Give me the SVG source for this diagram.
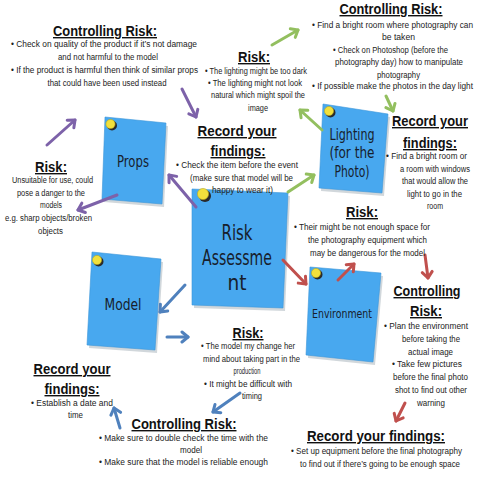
<svg xmlns="http://www.w3.org/2000/svg" width="480" height="480" viewBox="0 0 480 480">
<style>
.h{font-family:"Liberation Sans",Arial,sans-serif;font-weight:bold;font-size:14px;fill:#111;text-decoration:underline;text-anchor:middle;}
.b{font-family:"Liberation Sans",Arial,sans-serif;font-size:8.5px;fill:#222;}
.e{text-anchor:end;}
.m{text-anchor:middle;}
.n{font-family:"DejaVu Sans",sans-serif;fill:#17202c;text-anchor:middle;}
.note{fill:#48a8ef;stroke:#3a95d8;stroke-width:0.6;}
.sh{fill:#9aa6b0;opacity:0.45;}
.pin{fill:#f1e03c;stroke:#b8a820;stroke-width:0.6;}
.pinsh{fill:#2a2a2a;}
.a{fill:none;stroke-width:3;stroke-linecap:round;}
.p{stroke:#7d62a9;}.g{stroke:#93bf5f;}.r{stroke:#c0504d;}.bl{stroke:#4f81bd;}
</style>
<defs>
<marker id="mp" markerUnits="userSpaceOnUse" markerWidth="14" markerHeight="14" refX="8" refY="7" orient="auto"><path d="M2,2 L8,7 L2,12" fill="none" stroke="#7d62a9" stroke-width="3" stroke-linecap="round" stroke-linejoin="round"/></marker>
<marker id="mg" markerUnits="userSpaceOnUse" markerWidth="14" markerHeight="14" refX="8" refY="7" orient="auto"><path d="M2,2 L8,7 L2,12" fill="none" stroke="#93bf5f" stroke-width="3" stroke-linecap="round" stroke-linejoin="round"/></marker>
<marker id="mr" markerUnits="userSpaceOnUse" markerWidth="14" markerHeight="14" refX="8" refY="7" orient="auto"><path d="M2,2 L8,7 L2,12" fill="none" stroke="#c0504d" stroke-width="3" stroke-linecap="round" stroke-linejoin="round"/></marker>
<marker id="mb" markerUnits="userSpaceOnUse" markerWidth="14" markerHeight="14" refX="8" refY="7" orient="auto"><path d="M2,2 L8,7 L2,12" fill="none" stroke="#4f81bd" stroke-width="3" stroke-linecap="round" stroke-linejoin="round"/></marker>
</defs>
<rect width="480" height="480" fill="#ffffff"/>

<g id="props">
<polygon class="sh" points="107,120 168,126 164,207 104,202"/>
<polygon class="note" points="105,117 166,123 162,204 102,199"/>
<circle class="pinsh" cx="112" cy="125.5" r="5"/><circle class="pin" cx="110.5" cy="124" r="4.6"/>
<text class="n" x="133" y="167" font-size="15" textLength="32" lengthAdjust="spacingAndGlyphs">Props</text>
</g>

<g id="risk-assessment">
<polygon class="sh" points="194,192 290,196 285,311 194,308"/>
<polygon class="note" points="192,189 288,193 283,308 192,305"/>
<circle class="pinsh" cx="205" cy="196" r="6"/><circle class="pin" cx="203" cy="194" r="5.6"/>
<text class="n" x="237" y="240" font-size="21" textLength="31" lengthAdjust="spacingAndGlyphs">Risk</text>
<text class="n" x="237" y="265" font-size="21" textLength="70" lengthAdjust="spacingAndGlyphs">Assessme</text>
<text class="n" x="237" y="290" font-size="21" textLength="19" lengthAdjust="spacingAndGlyphs">nt</text>
</g>

<g id="lighting">
<polygon class="sh" points="325,107 390,117 384,196 321,191"/>
<polygon class="note" points="323,104 388,114 382,193 319,188"/>
<circle class="pinsh" cx="330.5" cy="112.5" r="5"/><circle class="pin" cx="329" cy="111" r="4.6"/>
<text class="n" x="352" y="140" font-size="16" textLength="45" lengthAdjust="spacingAndGlyphs">Lighting</text>
<text class="n" x="352" y="158" font-size="16" textLength="45" lengthAdjust="spacingAndGlyphs">(for the</text>
<text class="n" x="352" y="177" font-size="16" textLength="35" lengthAdjust="spacingAndGlyphs">Photo)</text>
</g>

<g id="model">
<polygon class="sh" points="94,255 163,262 157,353 89,348"/>
<polygon class="note" points="92,252 161,259 155,350 87,345"/>
<circle class="pinsh" cx="98.5" cy="261.5" r="5"/><circle class="pin" cx="97" cy="260" r="4.6"/>
<text class="n" x="123" y="310" font-size="16" textLength="37" lengthAdjust="spacingAndGlyphs">Model</text>
</g>

<g id="environment">
<polygon class="sh" points="312,270 383,276 375,365 308,358"/>
<polygon class="note" points="310,267 381,273 373,362 306,355"/>
<circle class="pinsh" cx="317.5" cy="274.5" r="5"/><circle class="pin" cx="316" cy="273" r="4.6"/>
<text class="n" x="342" y="318" font-size="13" textLength="60" lengthAdjust="spacingAndGlyphs">Environment</text>
</g>

<g id="connectors">
<line class="a p" x1="182" y1="89" x2="196" y2="117" marker-end="url(#mp)"/>
<line class="a p" x1="47" y1="145" x2="75" y2="120" marker-end="url(#mp)"/>
<line class="a p" x1="117" y1="195" x2="78" y2="210" marker-end="url(#mp)"/>
<line class="a p" x1="196" y1="207" x2="169" y2="175" marker-end="url(#mp)"/>
<line class="a g" x1="272" y1="45" x2="298" y2="30" marker-end="url(#mg)"/>
<line class="a g" x1="322" y1="130" x2="300" y2="110" marker-end="url(#mg)"/>
<line class="a g" x1="386" y1="96" x2="393" y2="111" marker-end="url(#mg)"/>
<line class="a g" x1="288" y1="192" x2="314" y2="175" marker-end="url(#mg)"/>
<line class="a r" x1="283" y1="260" x2="306" y2="284" marker-end="url(#mr)"/>
<line class="a r" x1="338" y1="280" x2="354" y2="264" marker-end="url(#mr)"/>
<line class="a r" x1="425" y1="255" x2="428" y2="278" marker-end="url(#mr)"/>
<line class="a r" x1="405" y1="403" x2="396" y2="421" marker-end="url(#mr)"/>
<line class="a bl" x1="185" y1="285" x2="160" y2="312" marker-end="url(#mb)"/>
<line class="a bl" x1="167" y1="337" x2="188" y2="337" marker-end="url(#mb)"/>
<line class="a bl" x1="240" y1="393" x2="213" y2="412" marker-end="url(#mb)"/>
<line class="a bl" x1="120" y1="428" x2="114" y2="408" marker-end="url(#mb)"/>
</g>

<g id="props-controlling-risk">
<text class="h" x="105" y="36" textLength="104" lengthAdjust="spacingAndGlyphs">Controlling Risk:</text>
<text class="b" x="11" y="47" textLength="186" lengthAdjust="spacingAndGlyphs">•  Check on quality of the product if it’s not damage</text>
<text class="b m" x="108" y="60" textLength="100" lengthAdjust="spacingAndGlyphs">and not harmful to the model</text>
<text class="b" x="11" y="73" textLength="187" lengthAdjust="spacingAndGlyphs">•  If the product is harmful then think of similar props</text>
<text class="b m" x="107" y="86" textLength="119" lengthAdjust="spacingAndGlyphs">that could have been used instead</text>
</g>

<g id="props-risk">
<text class="h" x="51" y="172" textLength="32" lengthAdjust="spacingAndGlyphs">Risk:</text>
<text class="b" x="12" y="183" textLength="81" lengthAdjust="spacingAndGlyphs">Unsuitable for use, could</text>
<text class="b m" x="51" y="196" textLength="68" lengthAdjust="spacingAndGlyphs">pose a danger to the</text>
<text class="b m" x="51" y="208" textLength="22" lengthAdjust="spacingAndGlyphs">models</text>
<text class="b" x="5" y="221" textLength="87" lengthAdjust="spacingAndGlyphs">e.g. sharp objects/broken</text>
<text class="b m" x="50.5" y="234" textLength="25" lengthAdjust="spacingAndGlyphs">objects</text>
</g>

<g id="props-record">
<text class="h" x="237" y="136" textLength="79" lengthAdjust="spacingAndGlyphs">Record your</text>
<text class="h" x="238" y="156" textLength="55" lengthAdjust="spacingAndGlyphs">findings:</text>
<text class="b" x="176" y="168" textLength="122" lengthAdjust="spacingAndGlyphs">•  Check the item before the event</text>
<text class="b m" x="241.5" y="181" textLength="103" lengthAdjust="spacingAndGlyphs">(make sure that model will be</text>
<text class="b m" x="242.5" y="193" textLength="61" lengthAdjust="spacingAndGlyphs">happy to wear it)</text>
</g>

<g id="lighting-risk">
<text class="h" x="254" y="62" textLength="32" lengthAdjust="spacingAndGlyphs">Risk:</text>
<text class="b" x="205" y="74" textLength="102" lengthAdjust="spacingAndGlyphs">•  The lighting might be too dark</text>
<text class="b" x="208" y="86" textLength="94" lengthAdjust="spacingAndGlyphs">•  The lighting might not look</text>
<text class="b m" x="258" y="98" textLength="94" lengthAdjust="spacingAndGlyphs">natural which might spoil the</text>
<text class="b m" x="258" y="111" textLength="20" lengthAdjust="spacingAndGlyphs">image</text>
</g>

<g id="lighting-controlling-risk">
<text class="h" x="391" y="14" textLength="103" lengthAdjust="spacingAndGlyphs">Controlling Risk:</text>
<text class="b e" x="473" y="28" textLength="161" lengthAdjust="spacingAndGlyphs">•  Find a bright room where photography can</text>
<text class="b m" x="398.5" y="40" textLength="33" lengthAdjust="spacingAndGlyphs">be taken</text>
<text class="b" x="333" y="53" textLength="115" lengthAdjust="spacingAndGlyphs">•  Check on Photoshop (before the</text>
<text class="b m" x="399" y="65" textLength="128" lengthAdjust="spacingAndGlyphs">photography day) how to manipulate</text>
<text class="b m" x="398.5" y="78" textLength="43" lengthAdjust="spacingAndGlyphs">photography</text>
<text class="b e" x="473" y="89" textLength="161" lengthAdjust="spacingAndGlyphs">•  If possible make the photos in the day light</text>
</g>

<g id="lighting-record">
<text class="h" x="430" y="126" textLength="76" lengthAdjust="spacingAndGlyphs">Record your</text>
<text class="h" x="430" y="148" textLength="54" lengthAdjust="spacingAndGlyphs">findings:</text>
<text class="b e" x="467" y="159" textLength="81" lengthAdjust="spacingAndGlyphs">•    Find a bright room or</text>
<text class="b m" x="435" y="172" textLength="70" lengthAdjust="spacingAndGlyphs">a room with windows</text>
<text class="b m" x="435" y="184" textLength="66" lengthAdjust="spacingAndGlyphs">that would allow the</text>
<text class="b m" x="434.5" y="197" textLength="55" lengthAdjust="spacingAndGlyphs">light to go in the</text>
<text class="b m" x="435" y="209" textLength="16" lengthAdjust="spacingAndGlyphs">room</text>
</g>

<g id="environment-risk">
<text class="h" x="362" y="217" textLength="32" lengthAdjust="spacingAndGlyphs">Risk:</text>
<text class="b" x="294" y="230" textLength="136" lengthAdjust="spacingAndGlyphs">•  Their might be not enough space for</text>
<text class="b m" x="367.5" y="243" textLength="119" lengthAdjust="spacingAndGlyphs">the photography equipment which</text>
<text class="b m" x="367.5" y="256" textLength="115" lengthAdjust="spacingAndGlyphs">may be dangerous for the model</text>
</g>

<g id="environment-controlling-risk">
<text class="h" x="427" y="296" textLength="67" lengthAdjust="spacingAndGlyphs">Controlling</text>
<text class="h" x="426" y="316" textLength="32" lengthAdjust="spacingAndGlyphs">Risk:</text>
<text class="b e" x="468" y="329" textLength="84" lengthAdjust="spacingAndGlyphs">•  Plan the environment</text>
<text class="b m" x="431" y="342" textLength="58" lengthAdjust="spacingAndGlyphs">before taking the</text>
<text class="b m" x="430.5" y="355" textLength="45" lengthAdjust="spacingAndGlyphs">actual image</text>
<text class="b" x="392" y="367" textLength="70" lengthAdjust="spacingAndGlyphs">•  Take few pictures</text>
<text class="b e" x="468" y="380" textLength="75" lengthAdjust="spacingAndGlyphs">before the final photo</text>
<text class="b e" x="467" y="393" textLength="72" lengthAdjust="spacingAndGlyphs">shot to find out other</text>
<text class="b m" x="431" y="406" textLength="28" lengthAdjust="spacingAndGlyphs">warning</text>
</g>

<g id="environment-record">
<text class="h" x="376" y="441" textLength="138" lengthAdjust="spacingAndGlyphs">Record your findings:</text>
<text class="b e" x="462" y="454" textLength="171" lengthAdjust="spacingAndGlyphs">•  Set up equipment before the final photography</text>
<text class="b e" x="460" y="467" textLength="160" lengthAdjust="spacingAndGlyphs">to find out if there’s going to be enough space</text>
</g>

<g id="model-risk">
<text class="h" x="248" y="338" textLength="31" lengthAdjust="spacingAndGlyphs">Risk:</text>
<text class="b" x="201" y="349" textLength="94" lengthAdjust="spacingAndGlyphs">•  The model my change her</text>
<text class="b m" x="251.5" y="362" textLength="97" lengthAdjust="spacingAndGlyphs">mind about taking part in the</text>
<text class="b m" x="247" y="374" textLength="27" lengthAdjust="spacingAndGlyphs">production</text>
<text class="b" x="204" y="387" textLength="88" lengthAdjust="spacingAndGlyphs">•  It might be difficult with</text>
<text class="b m" x="252" y="399" textLength="20" lengthAdjust="spacingAndGlyphs">timing</text>
</g>

<g id="model-controlling-risk">
<text class="h" x="184" y="429" textLength="105" lengthAdjust="spacingAndGlyphs">Controlling Risk:</text>
<text class="b" x="99" y="441" textLength="169" lengthAdjust="spacingAndGlyphs">•  Make sure to double check the time with the</text>
<text class="b m" x="191" y="453" textLength="22" lengthAdjust="spacingAndGlyphs">model</text>
<text class="b" x="99" y="465" textLength="169" lengthAdjust="spacingAndGlyphs">•  Make sure that the model is reliable enough</text>
</g>

<g id="model-record">
<text class="h" x="72" y="374" textLength="77" lengthAdjust="spacingAndGlyphs">Record your</text>
<text class="h" x="72" y="394" textLength="55" lengthAdjust="spacingAndGlyphs">findings:</text>
<text class="b" x="31" y="406" textLength="82" lengthAdjust="spacingAndGlyphs">•  Establish a date and</text>
<text class="b m" x="75.5" y="418" textLength="15" lengthAdjust="spacingAndGlyphs">time</text>
</g>
</svg>
